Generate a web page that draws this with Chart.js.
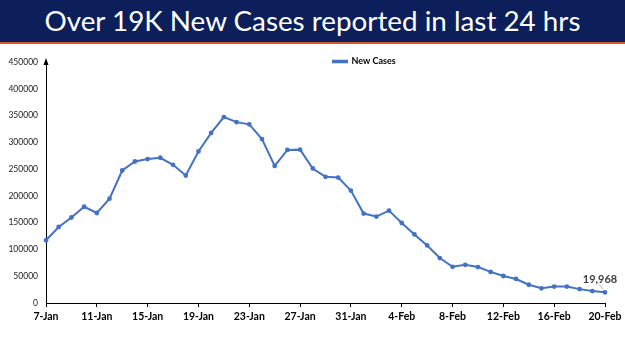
<!DOCTYPE html>
<html>
<head>
<meta charset="utf-8">
<script src="https://cdn.jsdelivr.net/npm/chart.js@4.4.1/dist/chart.umd.min.js"></script>
<style>
html,body{margin:0;padding:0;background:#fff;}
#wrap{position:relative;width:625px;height:351px;overflow:hidden;}
#banner{position:absolute;left:0;top:0;width:625px;height:42px;background:#0c1f5b;border-bottom:2px solid #d9582b;color:#fff;font-family:Lato,"Open Sans",sans-serif;font-size:27.8px;line-height:42px;text-align:center;z-index:2;white-space:nowrap;}
#chartBox{position:absolute;left:0;top:0;width:625px;height:351px;}
</style>
</head>
<body>
<div id="wrap">
<div id="chartBox"><canvas id="c"></canvas></div>
<div id="banner">Over 19K New Cases reported in last 24 hrs</div>
</div>
<script>
const categories = ["7-Jan","8-Jan","9-Jan","10-Jan","11-Jan","12-Jan","13-Jan","14-Jan","15-Jan","16-Jan","17-Jan","18-Jan","19-Jan","20-Jan","21-Jan","22-Jan","23-Jan","24-Jan","25-Jan","26-Jan","27-Jan","28-Jan","29-Jan","30-Jan","31-Jan","1-Feb","2-Feb","3-Feb","4-Feb","5-Feb","6-Feb","7-Feb","8-Feb","9-Feb","10-Feb","11-Feb","12-Feb","13-Feb","14-Feb","15-Feb","16-Feb","17-Feb","18-Feb","19-Feb","20-Feb"];
const newCases = [117100,141986,159632,179723,168063,194720,247417,264202,268833,271202,258089,238018,282970,317532,347254,337704,333533,306064,255874,285914,286384,251209,235532,234281,209918,167059,161386,172433,149394,127952,107474,83876,67597,71365,67084,58077,50407,44877,34113,27409,30615,30757,25920,22270,19968];
const seriesName = "New Cases";
const lastLabel = "19,968";
const yMax = 450000, yStep = 50000;
const labelEvery = 4;

const color = '#4472C4';

const extras = {
  id: 'extras',
  afterLayout(chart) {
    const lg = chart.legend;
    if (lg) {
      const w = lg.width, h = lg.height;
      lg.left = 327; lg.right = lg.left + w;
      lg.top = 51; lg.bottom = lg.top + h;
    }
  },
  afterDraw(chart) {
    const ctx = chart.ctx;
    const y = chart.scales.y;
    const x = chart.scales.x;
    ctx.save();
    ctx.fillStyle = '#000';
    ctx.beginPath();
    ctx.moveTo(x.left, y.top - 4);
    ctx.lineTo(x.left - 2.5, y.top + 3);
    ctx.lineTo(x.left + 2.5, y.top + 3);
    ctx.closePath();
    ctx.fill();
    const meta = chart.getDatasetMeta(0);
    const pt = meta.data[meta.data.length - 1];
    ctx.strokeStyle = '#a6a6a6';
    ctx.lineWidth = 0.8;
    ctx.beginPath();
    ctx.moveTo(pt.x - 2, pt.y - 3);
    ctx.lineTo(pt.x - 6, pt.y - 8);
    ctx.stroke();
    ctx.fillStyle = '#404040';
    ctx.font = 'bold 11px Lato, "Open Sans", sans-serif';
    ctx.textAlign = 'center';
    ctx.textBaseline = 'middle';
    ctx.fillText(lastLabel, pt.x - 5, pt.y - 13);
    ctx.restore();
  }
};

new Chart(document.getElementById('c'), {
  type: 'line',
  data: {
    labels: categories,
    datasets: [{
      label: seriesName,
      data: newCases,
      borderColor: color,
      backgroundColor: color,
      borderWidth: 2,
      pointRadius: 1.4,
      pointBackgroundColor: color,
      pointBorderColor: color,
      tension: 0,
      fill: false
    }]
  },
  options: {
    responsive: true,
    maintainAspectRatio: false,
    animation: false,
    layout: { padding: { left: 0, right: 20, top: 62, bottom: 22 } },
    plugins: {
      tooltip: { enabled: false },
      legend: {
        position: 'chartArea',
        align: 'start',
        labels: {
          boxWidth: 14, boxHeight: 1.5, padding: 6,
          color: '#000',
          font: { family: 'Lato, "Open Sans", sans-serif', size: 9, weight: 'bold' }
        }
      }
    },
    scales: {
      x: {
        type: 'category',
        offset: false,
        afterFit(s) { s.height = 26; },
        grid: {
          drawOnChartArea: false,
          drawTicks: true,
          tickLength: 4,
          color: (c) => (c.index % labelEvery === 0 ? '#000' : 'rgba(0,0,0,0)')
        },
        border: { display: true, color: '#000', width: 1 },
        ticks: {
          autoSkip: false,
          maxRotation: 0,
          minRotation: 0,
          padding: 3,
          color: '#000',
          font: { family: 'Lato, "Open Sans", sans-serif', size: 10.5, weight: 'bold' },
          callback: function (v, i) { return i % labelEvery === 0 ? this.getLabelForValue(v) : ''; }
        }
      },
      y: {
        min: 0, max: yMax,
        afterFit(s) { s.width = 46; },
        grid: { drawOnChartArea: false, drawTicks: false },
        border: { display: true, color: '#000', width: 1 },
        ticks: {
          stepSize: yStep,
          padding: 8,
          color: '#222',
          font: { family: 'Lato, "Open Sans", sans-serif', size: 8.5 },
          callback: (v) => String(v)
        }
      }
    }
  },
  plugins: [extras]
});
</script>
</body>
</html>
